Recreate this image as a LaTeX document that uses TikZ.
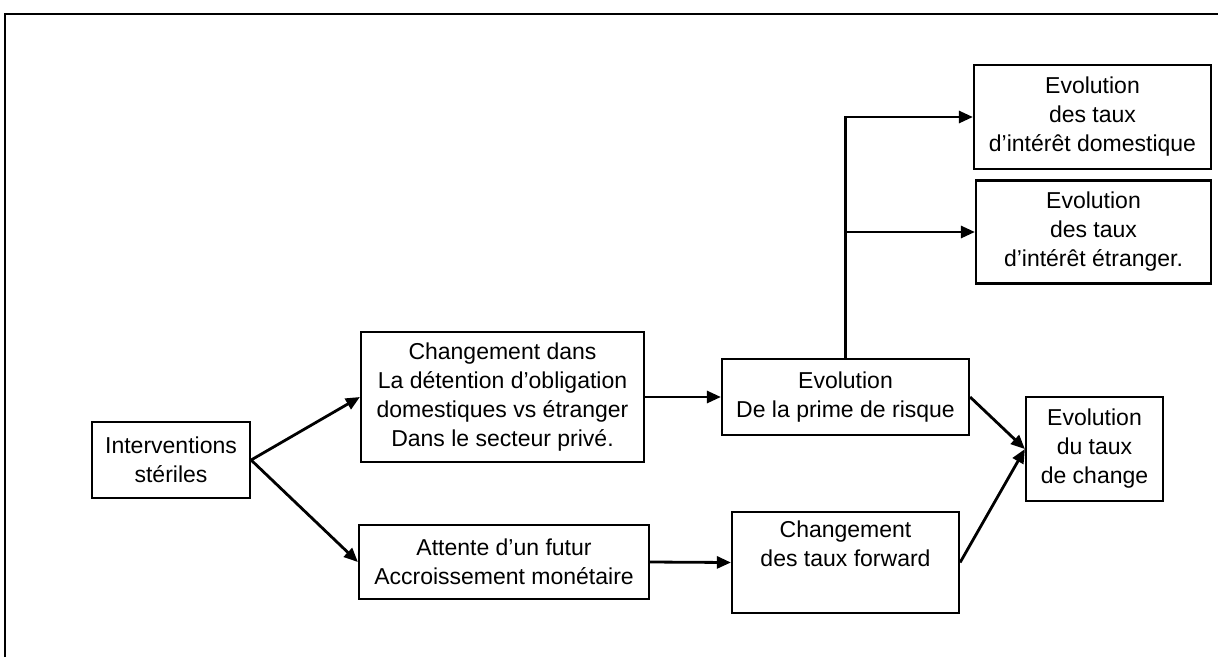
\documentclass[tikz,border=0pt]{standalone}
\usepackage{fontspec}
\setmainfont{Liberation Sans}
\usetikzlibrary{arrows.meta}
\begin{document}
\begin{tikzpicture}[x=1pt,y=-1pt,
  box/.style={draw, line width=2.2pt, align=center, inner sep=0pt, font=\fontsize{23}{29}\selectfont},
  arr/.style={line width=2.8pt, -{Triangle[length=14pt,width=12pt]}},
  frame/.style={line width=2.4pt}]
\useasboundingbox (0,0) rectangle (1218,657);
\draw[frame] (5,657) -- (5,14) -- (1218,14);

\node[box, minimum width=158pt, minimum height=76pt] (inter) at (171,460) {Interventions\\stériles};
\node[box, minimum width=283pt, minimum height=130pt] (chg) at (502.5,397) {Changement dans\\La détention d’obligation\\domestiques vs étranger\\Dans le secteur privé.};
\node[box, minimum width=290pt, minimum height=74pt] (att) at (504,562) {Attente d’un futur\\Accroissement monétaire};
\node[box, minimum width=247pt, minimum height=76pt] (prime) at (845.5,397) {Evolution\\De la prime de risque};
\node[box, minimum width=227pt, minimum height=101pt] (fwd) at (845.5,562.5) {Changement\\des taux forward\\\strut};
\node[box, minimum width=137pt, minimum height=104pt] (change) at (1094.5,449) {Evolution\\du taux\\de change};
\node[box, minimum width=237pt, minimum height=104pt] (dom) at (1092.5,117) {Evolution\\des taux\\d’intérêt domestique};
\node[box, minimum width=235pt, minimum height=103pt] (etr) at (1093.5,232) {Evolution\\des taux\\d’intérêt étranger.};

\draw[arr] (inter.east) -- (chg.west);
\draw[arr] (inter.east) -- (att.west);
\draw[arr] (chg.east) -- (prime.west);
\draw[arr] (att.east) -- (fwd.west);
\draw[arr] (prime.east) -- (change.west);
\draw[arr] (fwd.east) -- (change.west);
\draw[arr] (prime.north) |- (dom.west);
\coordinate (br) at (prime.north |- etr.west);
\draw[arr] (br) -- (etr.west);
\end{tikzpicture}
\end{document}
